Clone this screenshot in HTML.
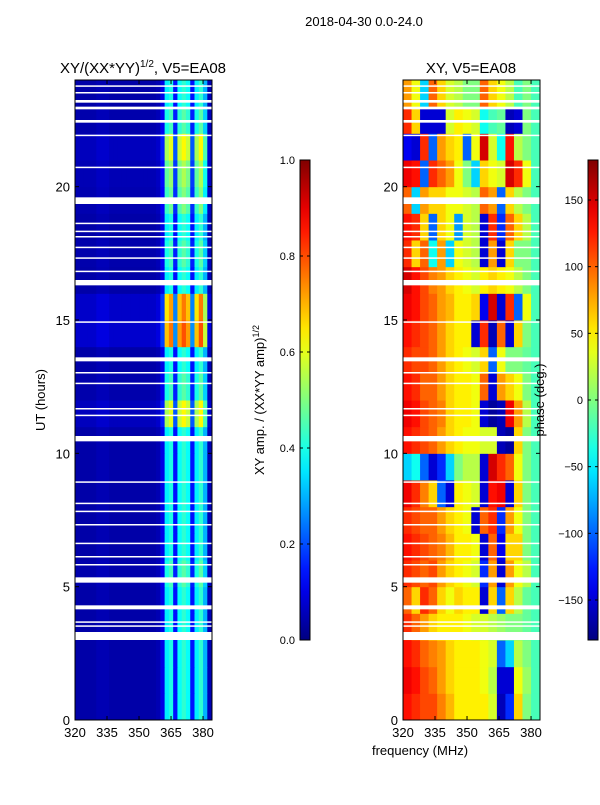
<!DOCTYPE html>
<html><head><meta charset="utf-8"><style>
body{margin:0;background:#fff;font-family:"Liberation Sans",sans-serif}
svg text{font-family:"Liberation Sans",sans-serif;fill:#000}
</style></head><body>
<svg id="c" width="600" height="800" viewBox="0 0 600 800" xmlns="http://www.w3.org/2000/svg">
<text x="364" y="26" font-size="13" text-anchor="middle">2018-04-30 0.0-24.0</text>
<text x="143" y="73" font-size="15" text-anchor="middle">XY/(XX*YY)<tspan font-size="10" dy="-6">1/2</tspan><tspan dy="6">, V5=EA08</tspan></text>
<text x="471" y="73" font-size="15" text-anchor="middle">XY, V5=EA08</text>
<text x="45" y="400" font-size="13" text-anchor="middle" transform="rotate(-90 45 400)">UT (hours)</text>
<text x="420" y="755" font-size="13" text-anchor="middle">frequency (MHz)</text>
<text x="264" y="400" font-size="13" text-anchor="middle" transform="rotate(-90 264 400)">XY amp. / (XX*YY amp)<tspan font-size="9" dy="-5">1/2</tspan></text>
<g id="lp"></g>
<g id="rp"></g>
<g id="ax"></g>
<text x="544" y="400" font-size="13" text-anchor="middle" transform="rotate(-90 544 400)">phase (deg.)</text>
</svg>
<script>
const hours=[0,1,2,3,4,5,6,7,8,9,10,11,12,13,14,15,16,17,18,19,20,21,22,23];
const ampFreqBins=[320,322,324,326,328,330,332,334,336,338,340,342,344,346,348,350,352,354,356,358,360,362,364,366,368,370,372,374,376,378,380,382];
const ampProfile=[0.04,0.04,0.04,0.04,0.04,0.05,0.05,0.05,0.04,0.04,0.04,0.04,0.04,0.04,0.04,0.04,0.04,0.04,0.04,0.05,0.1,0.36,0.4,0.14,0.38,0.42,0.38,0.14,0.36,0.42,0.3,0.05];
const ampRowGain=[1,1,1,1,1,1.1,1,1,1,1,1,1.5,1.1,1,1.9,1.8,1,1.1,1,1.2,1.3,1.5,1.1,1];
const phaseFreqBins=[320,324,328,332,336,340,344,348,352,356,360,364,368,372,376,380];
const phase=[
[130,120,110,110,90,70,50,50,50,50,30,-160,-120,60,0,-20],
[140,130,110,100,80,60,50,50,50,40,20,-150,-150,40,10,-20],
[130,120,100,90,80,60,50,50,50,40,30,-100,-60,20,0,-20],
[120,100,80,60,50,50,50,40,30,30,20,10,0,0,-10,-20],
[100,60,120,100,60,40,60,50,50,-150,60,-100,60,20,-10,-20],
[120,110,100,110,80,60,50,40,30,-120,80,-150,80,40,20,-20],
[130,120,110,100,90,70,50,50,40,-150,100,-140,60,60,0,-20],
[120,110,100,100,80,60,50,40,-150,100,120,-120,80,40,0,-20],
[140,120,90,60,-100,-150,50,40,30,-150,130,140,-150,60,0,-20],
[-60,-40,-100,-150,-120,-60,0,20,20,-150,150,120,100,40,0,-20],
[130,120,110,100,80,60,50,40,40,30,30,-160,-170,60,0,-20],
[140,130,110,100,90,60,50,50,40,-150,-170,-160,140,80,20,-20],
[130,120,100,100,80,60,50,50,40,100,-150,80,60,40,0,-20],
[120,110,110,100,80,60,50,40,30,60,-100,40,0,0,-10,-20],
[130,120,110,100,80,60,50,50,-150,120,-160,100,-150,60,0,-20],
[140,130,110,100,80,70,50,50,60,-140,150,-150,120,-100,40,-20],
[150,130,110,90,80,60,50,40,30,50,60,50,40,20,0,-20],
[120,60,100,-40,80,-60,40,30,20,-150,80,-150,60,0,0,-20],
[130,120,60,-100,60,40,-80,30,20,-150,120,-120,100,60,20,-20],
[100,-60,80,60,60,40,40,30,20,100,80,-100,60,20,0,-20],
[140,130,-100,120,100,80,40,0,-60,60,40,30,150,120,40,-20],
[-140,-150,120,-100,80,60,50,-100,40,150,30,-40,130,20,0,-20],
[120,60,-150,-150,-150,30,50,40,30,-40,-20,-10,-160,-150,0,-20],
[80,40,-60,100,60,30,20,0,0,100,60,40,20,-20,0,-20]];
const gaps=[[3.0,3.3],[3.5,3.55],[3.65,3.7],[4.15,4.3],[5.15,5.35],[5.8,5.85],[6.1,6.15],[6.6,6.65],[7.3,7.35],[7.8,7.85],[8.1,8.15],[8.9,8.95],[10.45,10.65],[11.4,11.45],[11.65,11.7],[12.6,12.65],[13.0,13.05],[13.45,13.6],[14.9,14.95],[16.3,16.5],[16.8,16.85],[17.3,17.35],[17.7,17.75],[18.1,18.15],[18.3,18.35],[18.6,18.65],[19.35,19.6],[20.7,20.75],[21.9,21.95],[22.4,22.5],[22.9,23.0],[23.15,23.25],[23.5,23.55],[23.75,23.8]];
const yTicks=[0,5,10,15,20];
const xTicks=[320,335,350,365,380];
const ampTicks=[0.0,0.2,0.4,0.6,0.8,1.0];
const phaseTicks=[-150,-100,-50,0,50,100,150];

const NS="http://www.w3.org/2000/svg";
const Y0=720,Y1=80,FMIN=320,FMAX=384.2,HMAX=24;
const panels=[{x0:75,x1:212},{x0:403,x1:540}];
function yS(h){return Y0-(h/HMAX)*(Y0-Y1);}
function xS(p,f){return p.x0+(f-FMIN)/(FMAX-FMIN)*(p.x1-p.x0);}
function jet(v){v=Math.max(0,Math.min(1,v));
 const r=Math.max(0,Math.min(1,1.5-Math.abs(4*v-3))),g=Math.max(0,Math.min(1,1.5-Math.abs(4*v-2))),b=Math.max(0,Math.min(1,1.5-Math.abs(4*v-1)));
 return `rgb(${Math.round(r*255)},${Math.round(g*255)},${Math.round(b*255)})`;}
function el(t,a,par){const e=document.createElementNS(NS,t);for(const k in a)e.setAttribute(k,a[k]);par.appendChild(e);return e;}
const lp=document.getElementById('lp'),rp=document.getElementById('rp'),ax=document.getElementById('ax');
hours.forEach((h,i)=>{ampFreqBins.forEach((f,j)=>{
 const f2=j+1<ampFreqBins.length?ampFreqBins[j+1]:FMAX;
 const x=xS(panels[0],f),w=xS(panels[0],f2)-x;
 const r=el('rect',{x:x,y:yS(h+1),width:w+0.5,height:yS(h)-yS(h+1)+0.5,fill:jet(ampProfile[j]*ampRowGain[i])},lp);
 
 
});});
hours.forEach((h,i)=>{phaseFreqBins.forEach((f,j)=>{
 const f2=j+1<phaseFreqBins.length?phaseFreqBins[j+1]:FMAX;
 const x=xS(panels[1],f),w=xS(panels[1],f2)-x;
 const r=el('rect',{x:x,y:yS(h+1),width:w+0.5,height:yS(h)-yS(h+1)+0.5,fill:jet((phase[i][j]+180)/360)},rp);
 
 
});});
panels.forEach((p,pi)=>{
 gaps.forEach(g=>{const r=el('rect',{x:p.x0,y:yS(g[1]),width:p.x1-p.x0,height:Math.max(1.5,yS(g[0])-yS(g[1])),fill:'#fff'},ax);
  
  });
 const fr=el('rect',{x:p.x0,y:Y1,width:p.x1-p.x0,height:Y0-Y1,fill:'none',stroke:'#000','stroke-width':1},ax);
 
 
 yTicks.forEach(t=>{const y=yS(t);
  el('line',{x1:p.x0,x2:p.x0+4,y1:y,y2:y,stroke:'#000'},ax);
  el('line',{x1:p.x1,x2:p.x1-4,y1:y,y2:y,stroke:'#000'},ax);
  const tx=el('text',{x:p.x0-5,y:y+5,'font-size':13,'text-anchor':'end'},ax);tx.textContent=t;
  
  });
 xTicks.forEach(t=>{const x=xS(p,t);
  el('line',{x1:x,x2:x,y1:Y0,y2:Y0-4,stroke:'#000'},ax);
  el('line',{x1:x,x2:x,y1:Y1,y2:Y1+4,stroke:'#000'},ax);
  const tx=el('text',{x:x,y:Y0+17,'font-size':13,'text-anchor':'middle'},ax);tx.textContent=t;
  
  });
});
const defs=el('defs',{},ax);
const gr=el('linearGradient',{id:'jg',x1:0,y1:1,x2:0,y2:0},defs);
for(let k=0;k<=20;k++)el('stop',{offset:k/20,'stop-color':jet(k/20)},gr);
function cbar(x,lo,hi,ticks,name,fmt){
 const r=el('rect',{x:x,y:160,width:10,height:480,fill:'url(#jg)',stroke:'#000','stroke-width':1},ax);
 
 
 ticks.forEach(t=>{const y=640-(t-lo)/(hi-lo)*480;
  el('line',{x1:x,x2:x+3,y1:y,y2:y,stroke:'#000'},ax);
  el('line',{x1:x+10,x2:x+7,y1:y,y2:y,stroke:'#000'},ax);
  const tx=el('text',{x:x-5,y:y+4,'font-size':11,'text-anchor':'end'},ax);tx.textContent=fmt(t);
  
  });
}
cbar(300,0,1,ampTicks,'amp-colorbar',t=>t.toFixed(1));
cbar(588,-180,180,phaseTicks,'phase-colorbar',t=>t<0?'\u2212'+(-t):String(t));
</script>
</body></html>
